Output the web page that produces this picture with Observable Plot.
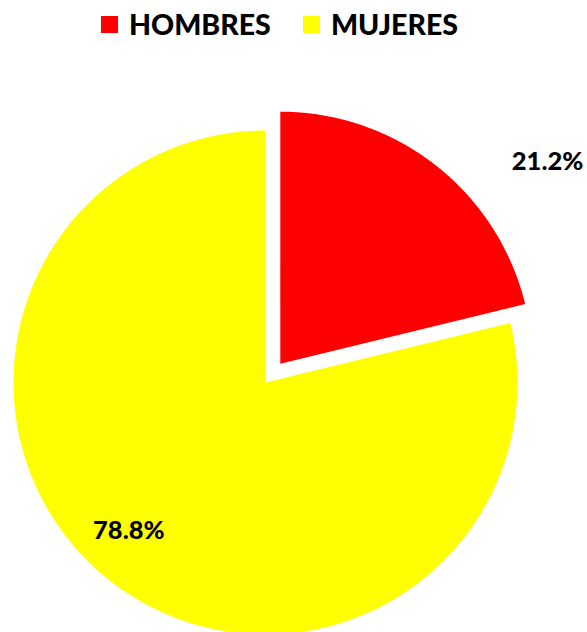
<!DOCTYPE html>
<html><head><meta charset="utf-8">
<script src="https://cdn.jsdelivr.net/npm/d3@7"></script>
<script src="https://cdn.jsdelivr.net/npm/@observablehq/plot@0.6"></script>
<style>
html,body{margin:0;padding:0;background:#fff;}
body{width:587px;height:632px;overflow:hidden;font-family:Lato,"Open Sans",sans-serif;}
#legend{position:relative;height:50px;}
.item{position:absolute;top:7px;display:flex;align-items:center;font-weight:900;font-size:28.5px;color:#000;}
.sw{width:17px;height:17px;margin-right:11px;display:inline-block;}
</style>
</head><body>
<div id="legend"></div>
<div id="chart"></div>
<script>
const categories = ["HOMBRES", "MUJERES"];
const values = [21.2, 78.8];
const colors = ["#FF0000", "#FFFF00"];
const labels = ["21.2%", "78.8%"];

// legend
const legendX = [101, 303];
const legend = document.getElementById("legend");
categories.forEach((c, i) => {
  const d = document.createElement("div");
  d.className = "item";
  d.style.left = legendX[i] + "px";
  d.innerHTML = `<span class="sw" style="background:${colors[i]}"></span>${c}`;
  legend.appendChild(d);
});

// pie geometry in unit space
const arcs = d3.pie().sort(null)(values);
const explode = [0.095, 0]; // explode distance (fraction of radius)
const pts = [];
arcs.forEach((a, i) => {
  const mid = (a.startAngle + a.endAngle) / 2;
  const ox = explode[i] * Math.sin(mid), oy = explode[i] * Math.cos(mid);
  pts.push({cat: categories[i], x: ox, y: oy});
  const n = 240;
  for (let k = 0; k <= n; k++) {
    const t = a.startAngle + (a.endAngle - a.startAngle) * k / n;
    pts.push({cat: categories[i], x: ox + Math.sin(t), y: oy + Math.cos(t)});
  }
});

// label placement (angle offset in radians, radius)
const labelPlace = [[0.242, 1.42], [0.079, 0.80]];
const labelData = arcs.map((a, i) => {
  const mid = (a.startAngle + a.endAngle) / 2 + labelPlace[i][0];
  const r = labelPlace[i][1];
  return {text: labels[i], x: r * Math.sin(mid), y: r * Math.cos(mid)};
});

const chart = Plot.plot({
  width: 587,
  height: 582,
  margin: 0,
  x: {domain: [-1, 1], range: [13, 517], axis: null},
  y: {domain: [-1, 1], range: [584, 80], axis: null},
  color: {domain: categories, range: colors},
  marks: [
    Plot.line(pts, {x: "x", y: "y", z: "cat", fill: "cat", stroke: "none", curve: "linear-closed"}),
    Plot.text(labelData, {x: "x", y: "y", text: "text", fill: "#000", fontSize: 25.5, fontWeight: 900, fontFamily: "Lato, 'Open Sans', sans-serif"})
  ]
});
chart.style.overflow = "visible";
document.getElementById("chart").appendChild(chart);
</script>
</body></html>
